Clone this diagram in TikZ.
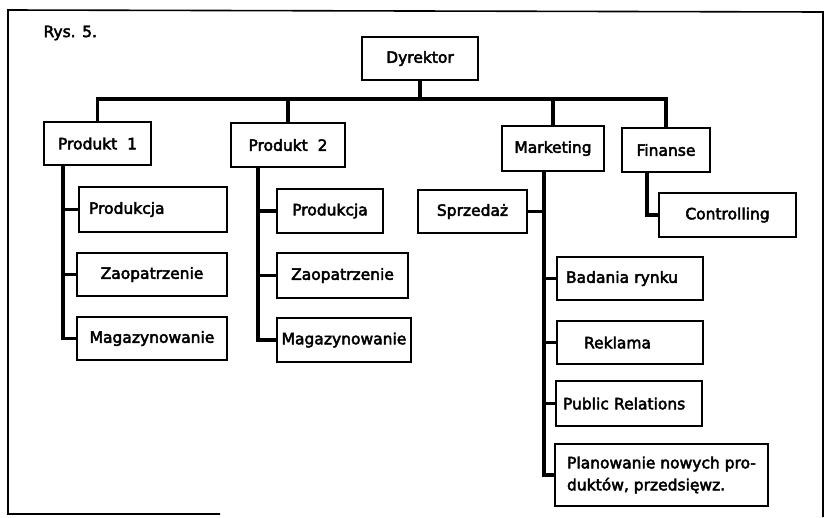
\documentclass[tikz,border=0pt]{standalone}
\usepackage{fontspec}
\setmainfont[FakeBold=3]{DejaVu Sans}
\begin{document}
\begin{tikzpicture}[x=1pt,y=-1pt,
  every node/.style={font=\fontsize{15.5}{22}\selectfont},
  box/.style={draw, line width=1.6pt, inner sep=0pt, align=center},
  lbox/.style args={#1/#2}{box, align=left, text width=#1-2*#2, inner xsep=#2},
  conn/.style={line width=3.6pt, line join=miter},
  frame/.style={line width=1.6pt}]
\useasboundingbox (0,0) rectangle (826,517);
% frame
\draw[frame] (220,514) -- (8,514) -- (8,10) -- (823,12) -- (823,517);
\node[anchor=west] (title) at (40,33) {Rys. 5.};
% boxes
\node[box, minimum width=116pt, minimum height=43pt] (D) at (420,58.5) {Dyrektor};
\node[box, minimum width=107pt, minimum height=43pt] (P1) at (97.5,143.5) {Produkt~~1};
\node[box, minimum width=114pt, minimum height=44pt] (P2) at (288,145) {Produkt~~2};
\node[box, minimum width=102pt, minimum height=45pt] (Mkt) at (553,148.5) {Marketing};
\node[box, minimum width=88pt, minimum height=44pt] (Fin) at (666,150) {Finanse};
\node[lbox=148pt/10pt, minimum height=45pt] (Prod1) at (153,209.5) {Produkcja};
\node[box, minimum width=150pt, minimum height=43pt] (Zaop1) at (152,274.5) {Zaopatrzenie};
\node[box, minimum width=150pt, minimum height=43pt] (Mag1) at (152,338.5) {Magazynowanie};
\node[box, minimum width=106pt, minimum height=44pt] (Prod2) at (330,211) {Produkcja};
\node[box, minimum width=131pt, minimum height=45pt] (Zaop2) at (342.5,275.5) {Zaopatrzenie};
\node[box, minimum width=134pt, minimum height=44pt] (Mag2) at (344,340) {Magazynowanie};
\node[box, minimum width=109pt, minimum height=43pt] (Sprz) at (472.5,211.5) {Sprzedaż};
\node[box, minimum width=137pt, minimum height=44pt] (Ctrl) at (727.5,215) {Controlling};
\node[lbox=146pt/9pt, minimum height=43pt] (Bad) at (630,278.5) {Badania rynku};
\node[lbox=146pt/27pt, minimum height=43pt] (Rek) at (630,342.5) {Reklama};
\node[lbox=146pt/7pt, minimum height=45pt] (PR) at (629,403.5) {Public Relations};
\node[box, align=left, minimum width=213pt, minimum height=62pt] (Plan) at (661.5,475) {Planowanie nowych pro-\\duktów, przedsięwz.};
% top-level connectors
\coordinate (bus) at (420,99);
\draw[conn] (D.south) -- (bus);
\draw[conn] (P1.north) |- (bus) -| (Fin.north);
\draw[conn] (P2.north) -- (P2.north |- bus);
\draw[conn] (Mkt.north) -- (Mkt.north |- bus);
% Produkt 1 column
\coordinate (v1) at (63,165);
\draw[conn] (v1) |- (Mag1.west);
\draw[conn] (Prod1.west) -- (Prod1.west -| v1);
\draw[conn] (Zaop1.west) -- (Zaop1.west -| v1);
% Produkt 2 column
\coordinate (v2) at (258,167);
\draw[conn] (v2) |- (Mag2.west);
\draw[conn] (Prod2.west) -- (Prod2.west -| v2);
\draw[conn] (Zaop2.west) -- (Zaop2.west -| v2);
% Marketing column
\coordinate (v3) at (544,171);
\draw[conn] (v3) |- (Plan.west);
\draw[conn] (Sprz.east) -- (Sprz.east -| v3);
\draw[conn] (Bad.west) -- (Bad.west -| v3);
\draw[conn] (Rek.west) -- (Rek.west -| v3);
\draw[conn] (PR.west) -- (PR.west -| v3);
% Finanse
\coordinate (v4) at (647,172);
\draw[conn] (v4) |- (Ctrl.west);
\end{tikzpicture}
\end{document}
